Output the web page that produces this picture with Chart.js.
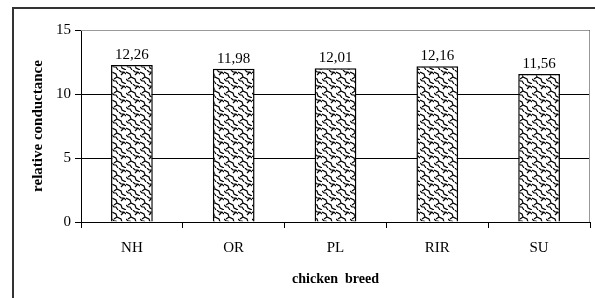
<!DOCTYPE html>
<html>
<head>
  <title>relative conductance</title>
  <script src="https://cdn.jsdelivr.net/npm/chart.js"></script>
  <style>
    html, body { margin: 0; padding: 0; background: #fff; }
  </style>
</head>
<body>
  <canvas id="chart" width="595" height="298"></canvas>
  <script>
    const breeds = ['NH', 'OR', 'PL', 'RIR', 'SU'];
    const conductance = [12.26, 11.98, 12.01, 12.16, 11.56];
    const yTicks = [0, 5, 10, 15];

    // woven fill like the old excel pattern
    function makePattern() {
      const c = document.createElement('canvas');
      c.width = 14; c.height = 14;
      const g = c.getContext('2d');
      g.fillStyle = '#fff';
      g.fillRect(0, 0, 14, 14);
      g.strokeStyle = '#000';
      g.lineWidth = 1.2;
      g.beginPath();
      g.moveTo(0, 2); g.lineTo(4, 4); g.lineTo(5, 7); g.lineTo(9, 9); g.lineTo(10, 12); g.lineTo(14, 14);
      g.moveTo(7, 0); g.lineTo(9, 2); g.lineTo(12, 2); g.lineTo(14, 4);
      g.moveTo(0, 9); g.lineTo(2, 11); g.lineTo(4, 11); g.lineTo(6, 14);
      g.moveTo(5, 7); g.lineTo(2, 9);
      g.moveTo(12, 2); g.lineTo(9, 5);
      g.stroke();
      return g.createPattern(c, 'repeat');
    }

    const frame = {
      id: 'frame',
      afterDraw(chart) {
        const ctx = chart.ctx, a = chart.chartArea;
        ctx.save();
        ctx.strokeStyle = '#333';
        ctx.lineWidth = 2;
        ctx.strokeRect(13, 8, 600, 300);
        ctx.strokeStyle = '#999';
        ctx.lineWidth = 1;
        ctx.beginPath();
        ctx.moveTo(a.left, a.top + 0.5);
        ctx.lineTo(a.right - 0.5, a.top + 0.5);
        ctx.lineTo(a.right - 0.5, a.bottom);
        ctx.stroke();
        ctx.restore();
      }
    };

    const barLabels = {
      id: 'barLabels',
      afterDatasetsDraw(chart) {
        const ctx = chart.ctx;
        ctx.save();
        ctx.font = '15px "Liberation Serif"';
        ctx.fillStyle = '#000';
        ctx.textAlign = 'center';
        ctx.textBaseline = 'alphabetic';
        chart.getDatasetMeta(0).data.forEach((bar, i) => {
          ctx.fillText(conductance[i].toFixed(2).replace('.', ','), bar.x, bar.y - 6);
        });
        ctx.restore();
      }
    };

    new Chart(document.getElementById('chart'), {
      type: 'bar',
      data: {
        labels: breeds,
        datasets: [{
          data: conductance,
          backgroundColor: makePattern(),
          borderColor: '#000',
          borderWidth: 1.5,
          barPercentage: 0.82,
          categoryPercentage: 0.5
        }]
      },
      options: {
        responsive: false,
        animation: false,
        devicePixelRatio: 1,
        layout: { padding: { top: 30, right: 5, left: 29, bottom: 0 } },
        plugins: { legend: { display: false }, tooltip: { enabled: false } },
        scales: {
          x: {
            afterFit(s) { s.height = 76; },
            grid: { offset: true, drawOnChartArea: false, drawTicks: true, tickLength: 6, color: '#000' },
            border: { color: '#000', width: 1 },
            ticks: { color: '#000', font: { family: 'Liberation Serif', size: 15 }, padding: 11 },
            title: {
              display: true, text: 'chicken  breed', color: '#000',
              font: { family: 'Liberation Serif', size: 14, weight: 'bold' },
              padding: { top: 0, bottom: 10 }
            }
          },
          y: {
            min: 0, max: 15,
            afterFit(s) { s.width = 52; },
            afterBuildTicks(s) { s.ticks = yTicks.map(v => ({ value: v })); },
            grid: { color: '#000', tickLength: 6, lineWidth: 1 },
            border: { color: '#000', width: 1 },
            ticks: { color: '#000', font: { family: 'Liberation Serif', size: 15 }, padding: 4 },
            title: {
              display: true, text: 'relative conductance', color: '#000',
              font: { family: 'Liberation Serif', size: 15, weight: 'bold' },
              padding: { top: 0, bottom: 0 }
            }
          }
        }
      },
      plugins: [frame, barLabels]
    });
  </script>
</body>
</html>
